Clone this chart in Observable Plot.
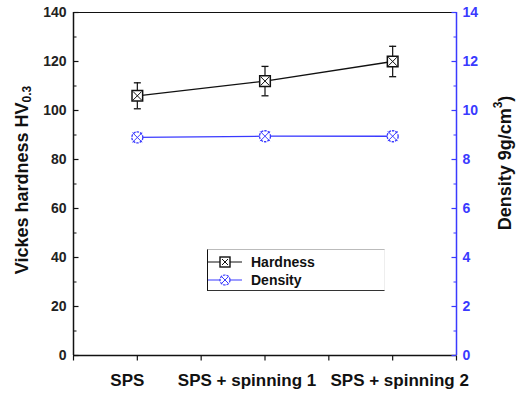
<!DOCTYPE html>
<html>
<head>
<meta charset="utf-8">
<script src="https://cdn.jsdelivr.net/npm/d3@7"></script>
<script src="https://cdn.jsdelivr.net/npm/@observablehq/plot@0.6"></script>
<style>
  html, body { margin: 0; padding: 0; background: #fff; }
  #wrap { position: relative; width: 516px; height: 397px; font-family: "Liberation Sans", Arial, sans-serif; }
  #legend { position: absolute; left: 207px; top: 249px; width: 178px; height: 42px;
    border-left: 1.5px solid #111; border-bottom: 1.5px solid #333; border-top: 1px solid #bbb; border-right: 1px solid #eee;
    box-sizing: border-box; font-weight: bold; font-size: 14px; color: #111; }
  .row { position: absolute; left: 0; height: 18px; display: flex; align-items: center; }
  .row svg { display: block; }
  .row span { margin-left: 9px; }
</style>
</head>
<body>
<div id="wrap">
  <div id="chart"></div>
  <div id="legend"></div>
</div>
<script>
const categories = ["SPS", "SPS + spinning 1", "SPS + spinning 2"];
const hardness = [106, 112, 120];
const hardnessErr = [5.3, 6, 6.2];
const density = [8.9, 8.95, 8.95];
const leftTicks = [0, 20, 40, 60, 80, 100, 120, 140];
const rightTicks = [0, 2, 4, 6, 8, 10, 12, 14];
const labelShift = [-10, -18, 7];

const BLUE = "#3a3aff";
const hData = categories.map((c, i) => ({x: i + 1, v: hardness[i], lo: hardness[i] - hardnessErr[i], hi: hardness[i] + hardnessErr[i]}));
const dData = categories.map((c, i) => ({x: i + 1, v: density[i] * 10}));

const lenOf = size => Math.sqrt(size / Math.PI);
const symRight = {draw(c, s) { const l = lenOf(s); c.moveTo(0, 0); c.lineTo(l, 0); }};
const symLeft = {draw(c, s) { const l = lenOf(s); c.moveTo(0, 0); c.lineTo(-l, 0); }};
const symDown = {draw(c, s) { const l = lenOf(s); c.moveTo(0, 0); c.lineTo(0, l); }};
const symCap = {draw(c, s) { const l = lenOf(s); c.moveTo(-l, 0); c.lineTo(l, 0); }};

const minorLeft = d3.range(10, 140, 20);
const xTicks = d3.range(0.5, 3.51, 0.5);

const marks = [
  // frame
  Plot.ruleY([140], {stroke: "#111", strokeWidth: 1.2}),
  Plot.ruleY([0], {stroke: "#111", strokeWidth: 1.5}),
  Plot.ruleX([0.5], {stroke: "#111", strokeWidth: 1.5}),
  Plot.ruleX([3.5], {stroke: BLUE, strokeWidth: 1.5}),
  // ticks
  Plot.dot(leftTicks, {y: d => d, frameAnchor: "left", symbol: symRight, r: 5, stroke: "#111", strokeWidth: 1.2}),
  Plot.dot(minorLeft, {y: d => d, frameAnchor: "left", symbol: symRight, r: 3, stroke: "#111", strokeWidth: 1}),
  Plot.dot(rightTicks, {y: d => d * 10, frameAnchor: "right", symbol: symLeft, r: 5, stroke: BLUE, strokeWidth: 1.2}),
  Plot.dot(minorLeft, {y: d => d, frameAnchor: "right", symbol: symLeft, r: 3, stroke: BLUE, strokeWidth: 1}),
  Plot.dot(xTicks, {x: d => d, frameAnchor: "bottom", symbol: symDown, r: 5, stroke: "#111", strokeWidth: 1.2}),
  // axis labels
  Plot.axisY({anchor: "left", ticks: leftTicks, tickSize: 0, tickPadding: 7, fontSize: 14, fontWeight: "bold", color: "#222", label: null}),
  Plot.axisY({anchor: "right", ticks: rightTicks.map(d => d * 10), tickFormat: d => d / 10, tickSize: 0, tickPadding: 6, fontSize: 14, fontWeight: "bold", color: BLUE, label: null}),
  ...categories.map((c, i) => Plot.axisX({anchor: "bottom", ticks: [i + 1], tickFormat: () => c, tickSize: 0, tickPadding: 18, dx: labelShift[i], fontSize: 17, fontWeight: "bold", color: "#111", label: null})),
  // density series
  Plot.line(dData, {x: "x", y: "v", stroke: BLUE, strokeWidth: 1.3}),
  Plot.dot(dData, {x: "x", y: "v", symbol: "circle", r: 5.5, fill: "white", stroke: BLUE, strokeWidth: 1.3, strokeDasharray: "2.5,1"}),
  Plot.dot(dData, {x: "x", y: "v", symbol: "times", r: 4.5, stroke: BLUE, strokeWidth: 1}),
  // hardness series
  Plot.line(hData, {x: "x", y: "v", stroke: "#111", strokeWidth: 1.3}),
  Plot.ruleX(hData, {x: "x", y1: "lo", y2: "hi", stroke: "#111", strokeWidth: 1.2}),
  Plot.dot(hData, {x: "x", y: "lo", symbol: symCap, r: 3.5, stroke: "#111", strokeWidth: 1.3}),
  Plot.dot(hData, {x: "x", y: "hi", symbol: symCap, r: 3.5, stroke: "#111", strokeWidth: 1.3}),
  Plot.dot(hData, {x: "x", y: "v", symbol: "square", r: 6, fill: "white", stroke: "#111", strokeWidth: 1.5}),
  Plot.dot(hData, {x: "x", y: "v", symbol: "times", r: 4, stroke: "#111", strokeWidth: 1})
];

const chart = Plot.plot({
  width: 516,
  height: 397,
  marginLeft: 73,
  marginRight: 60,
  marginTop: 12,
  marginBottom: 42,
  style: {fontFamily: "'Liberation Sans', Arial, sans-serif", background: "white", overflow: "visible"},
  x: {type: "linear", domain: [0.5, 3.5], axis: null},
  y: {domain: [0, 140], axis: null},
  marks
});
document.getElementById("chart").appendChild(chart);

// axis titles
const svg = d3.select(chart);
const lt = svg.append("text")
  .attr("transform", "translate(22,180) rotate(-90)")
  .attr("text-anchor", "middle").attr("dominant-baseline", "central")
  .attr("font-size", 18).attr("font-weight", "bold").attr("fill", "#111");
lt.append("tspan").text("Vickes hardness HV");
lt.append("tspan").attr("font-size", 12).attr("dy", 5).text("0.3");

const rt = svg.append("text")
  .attr("transform", "translate(505,163) rotate(-90)")
  .attr("text-anchor", "middle").attr("dominant-baseline", "central")
  .attr("font-size", 18).attr("font-weight", "bold").attr("fill", "#111");
rt.append("tspan").text("Density 9g/cm");
rt.append("tspan").attr("font-size", 12).attr("dy", -7).text("3");
rt.append("tspan").attr("dy", 7).text(")");

// legend
const legendItems = [
  {label: "Hardness", color: "#111", shape: "square"},
  {label: "Density", color: BLUE, shape: "circle"}
];
const lg = document.getElementById("legend");
legendItems.forEach((it, i) => {
  const row = document.createElement("div");
  row.className = "row";
  row.style.top = (i === 0 ? 3 : 21) + "px";
  const s = d3.create("svg").attr("width", 34).attr("height", 18);
  s.append("line").attr("x1", 0).attr("x2", 34).attr("y1", 9).attr("y2", 9).attr("stroke", it.color).attr("stroke-width", 1.2);
  if (it.shape === "square") {
    s.append("rect").attr("x", 12).attr("y", 4).attr("width", 10).attr("height", 10).attr("fill", "white").attr("stroke", it.color).attr("stroke-width", 1.4);
  } else {
    s.append("circle").attr("cx", 17).attr("cy", 9).attr("r", 5).attr("fill", "white").attr("stroke", it.color).attr("stroke-width", 1.2).attr("stroke-dasharray", "2.5,1");
  }
  s.append("path").attr("d", "M14,6L20,12M20,6L14,12").attr("stroke", it.color).attr("stroke-width", 1);
  row.appendChild(s.node());
  const t = document.createElement("span");
  t.textContent = it.label;
  row.appendChild(t);
  lg.appendChild(row);
});
</script>
</body>
</html>
